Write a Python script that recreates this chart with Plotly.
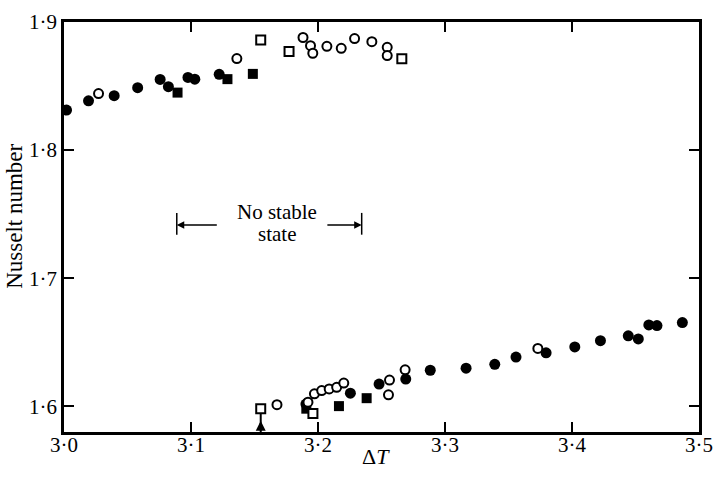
import plotly.graph_objects as go

# ---- data (ΔT, Nusselt number) ----
filled_circle_x = [3.002, 3.0193, 3.0395, 3.058, 3.0757, 3.0822, 3.0976, 3.103, 3.1222,
                   3.1905, 3.2255, 3.2481, 3.2691, 3.2884, 3.3166, 3.3392, 3.3559, 3.3796,
                   3.4022, 3.4224, 3.4443, 3.4522, 3.4605, 3.4669, 3.4869]
filled_circle_y = [1.8313, 1.8385, 1.8425, 1.8487, 1.8552, 1.8495, 1.8567, 1.8554, 1.8592,
                   1.6018, 1.6103, 1.6174, 1.6213, 1.6282, 1.6298, 1.6328, 1.6385, 1.6418,
                   1.6464, 1.6513, 1.6551, 1.6526, 1.6636, 1.6631, 1.6654]

filled_square_x = [3.0894, 3.1287, 3.1487, 3.1908, 3.2165, 3.2383]
filled_square_y = [1.8449, 1.8554, 1.8595, 1.5982, 1.6002, 1.6064]

open_circle_x = [3.0272, 3.1361, 3.1882, 3.1941, 3.1959, 3.207, 3.2183, 3.2288, 3.2424,
                 3.2545, 3.2545,
                 3.1677, 3.1921, 3.1972, 3.2029, 3.2088, 3.2147, 3.2203, 3.2563, 3.2555,
                 3.2686, 3.3731]
open_circle_y = [1.8441, 1.8715, 1.8879, 1.8815, 1.8756, 1.881, 1.8795, 1.8871, 1.8846,
                 1.8802, 1.8738,
                 1.6013, 1.6033, 1.6098, 1.6123, 1.6136, 1.6149, 1.6182, 1.6205, 1.609,
                 1.6285, 1.6452]

open_square_x = [3.1549, 3.1772, 3.266, 3.1549, 3.196]
open_square_y = [1.8859, 1.8769, 1.8713, 1.5982, 1.5944]

x_tick_vals = [3.0, 3.1, 3.2, 3.3, 3.4, 3.5]
x_tick_text = ["3·0", "3·1", "3·2", "3·3", "3·4", "3·5"]
y_tick_vals = [1.6, 1.7, 1.8, 1.9]
y_tick_text = ["1·6", "1·7", "1·8", "1·9"]

# "No stable state" interval and transition arrow
gap_left, gap_right, gap_level = 3.0888, 3.2344, 1.7415
jump_x, jump_tip = 3.1549, 1.5945

FONT = "Liberation Serif"
fig = go.Figure()

fig.add_trace(go.Scatter(x=filled_circle_x, y=filled_circle_y, mode="markers",
                         marker=dict(symbol="circle", size=11, color="black"), showlegend=False))
fig.add_trace(go.Scatter(x=filled_square_x, y=filled_square_y, mode="markers",
                         marker=dict(symbol="square", size=10, color="black"), showlegend=False))
fig.add_trace(go.Scatter(x=open_square_x, y=open_square_y, mode="markers",
                         marker=dict(symbol="square", size=9, color="white",
                                     line=dict(color="black", width=2)), showlegend=False))
fig.add_trace(go.Scatter(x=open_circle_x, y=open_circle_y, mode="markers",
                         marker=dict(symbol="circle", size=9, color="white",
                                     line=dict(color="black", width=2)), showlegend=False))

shapes = []
for gx in (gap_left, gap_right):
    shapes.append(dict(type="line", xref="x", yref="y", x0=gx, x1=gx,
                       y0=gap_level - 0.0075, y1=gap_level + 0.0095,
                       line=dict(color="black", width=1.5)))
shapes.append(dict(type="line", xref="x", yref="y", x0=jump_x, x1=jump_x,
                   y0=1.58, y1=jump_tip, line=dict(color="black", width=2)))
fig.update_layout(shapes=shapes)

ann = [
    dict(x=gap_left, y=gap_level, ax=3.1215, ay=gap_level, xref="x", yref="y",
         axref="x", ayref="y", showarrow=True, arrowhead=2, arrowsize=1, arrowwidth=1.5,
         arrowcolor="black", text=""),
    dict(x=gap_right, y=gap_level, ax=3.2062, ay=gap_level, xref="x", yref="y",
         axref="x", ayref="y", showarrow=True, arrowhead=2, arrowsize=1, arrowwidth=1.5,
         arrowcolor="black", text=""),
    dict(x=3.1677, y=1.7515, xref="x", yref="y", showarrow=False,
         text="No stable", font=dict(family=FONT, size=21, color="black"),
         yanchor="middle", align="center"),
    dict(x=3.1677, y=1.7345, xref="x", yref="y", showarrow=False,
         text="state", font=dict(family=FONT, size=21, color="black"),
         yanchor="middle", align="center"),
    dict(x=jump_x, y=1.5888, ax=jump_x, ay=1.58, xref="x", yref="y", axref="x", ayref="y",
         showarrow=True, arrowhead=2, arrowsize=1, arrowwidth=2, arrowcolor="black", text=""),
    dict(x=0.4915, y=-0.060, xref="paper", yref="paper", showarrow=False,
         text="Δ<i>T</i>", font=dict(family=FONT, size=22, color="black"),
         xanchor="center", yanchor="middle"),
    dict(x=-0.078, y=0.526, xref="paper", yref="paper", showarrow=False,
         text="Nusselt number", textangle=-90, font=dict(family=FONT, size=23, color="black"),
         xanchor="center", yanchor="middle"),
]
fig.update_layout(annotations=ann)

axis_common = dict(showgrid=False, zeroline=False, showline=True, linecolor="black",
                   linewidth=2.5, mirror="ticks", ticks="inside", ticklen=10,
                   tickwidth=2, tickcolor="black", ticklabeloverflow="allow",
                   tickfont=dict(family=FONT, size=21, color="black"))
fig.update_xaxes(range=[3.0, 3.5], tickvals=x_tick_vals, ticktext=x_tick_text,
                 ticklabelstandoff=-8, **axis_common)
fig.update_yaxes(range=[1.58, 1.9], tickvals=y_tick_vals, ticktext=y_tick_text,
                 **axis_common)

fig.update_layout(width=723, height=484, margin=dict(l=64, r=10, t=16, b=52),
                  plot_bgcolor="white", paper_bgcolor="white",
                  font=dict(family=FONT, color="black"))

fig.write_html("out.html")
